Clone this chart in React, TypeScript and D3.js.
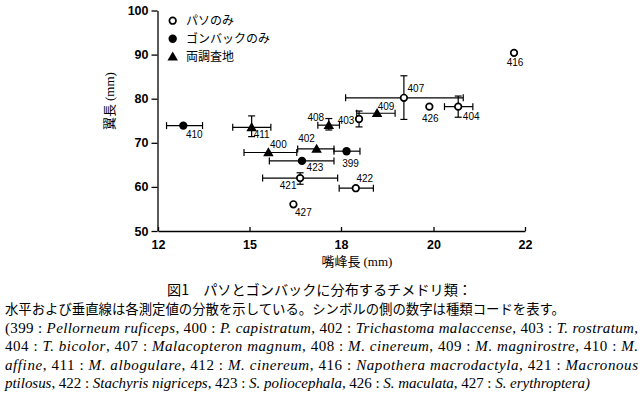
import React, { useEffect, useRef } from 'react';
import * as d3 from 'd3';

// species codes and their group (paso = パソのみ, gonbak = ゴンバックのみ, both = 両調査地)
const codes = ['399', '400', '402', '403', '404', '407', '408', '409', '410', '411', '416', '421', '422', '423', '426', '427'];
const groups = ['gonbak', 'both', 'both', 'paso', 'paso', 'paso', 'both', 'both', 'gonbak', 'both', 'paso', 'paso', 'paso', 'gonbak', 'paso', 'paso'];
// bill length (mm) and wing length (mm)
const billLen = [18.12, 15.62, 17.2, 18.39, 20.54, 19.36, 17.6, 18.78, 12.83, 15.07, 21.76, 16.66, 18.32, 16.72, 19.91, 16.44];
const wingLen = [68.1, 67.8, 68.6, 75.4, 78.2, 80.2, 74.0, 76.7, 73.9, 73.5, 90.4, 62.0, 59.7, 65.9, 78.2, 56.05];
// ranges (null = no bar)
const billLo = [17.77, 14.82, 16.58, null, 20.24, 18.1, 17.24, 18.34, 12.28, 14.45, null, 15.43, 17.94, 15.65, null, null];
const billHi = [18.41, 16.55, 17.77, null, 20.86, 20.65, 17.95, 19.17, 13.46, 15.7, null, 17.89, 18.7, 17.77, null, null];
const wingLo = [null, null, null, 73.6, 75.8, 75.3, 72.9, null, null, 71.4, null, 60.6, null, null, null, null];
const wingHi = [null, null, null, 77.2, 80.6, 85.2, 75.5, null, null, 76.1, null, 63.2, null, null, null, null];

const xTicks = [12, 15, 18, 20, 22];
const yTicks = [50, 60, 70, 80, 90, 100];

const legendItems = [
  { group: 'paso', label: 'パソのみ' },
  { group: 'gonbak', label: 'ゴンバックのみ' },
  { group: 'both', label: '両調査地' },
];

// where the code label sits relative to its symbol
const labelOffset: Record<string, [number, number]> = {
  '399': [4, 12], '400': [10, -8], '402': [-10, -10], '403': [-13, 2], '404': [13, 10],
  '407': [12, -9], '408': [-13, -8], '409': [9, -7], '410': [11, 9], '411': [10, 7],
  '416': [1, 10], '421': [-12, 7], '422': [9, -10], '423': [13, 7], '426': [1, 12], '427': [10, 8],
};

const captionTitle = '図1　パソとゴンバックに分布するチメドリ類：';
const captionNote = '水平および垂直線は各測定値の分散を示している。シンボルの側の数字は種類コードを表す。';
// [text, italic]
const captionLines: [string, boolean][][] = [
  [['(399 : ', false], ['Pellorneum ruficeps', true], [', 400 : ', false], ['P. capistratum', true], [', 402 : ', false], ['Trichastoma malaccense', true], [', 403 : ', false], ['T. rostratum', true], [',', false]],
  [['404 : ', false], ['T. bicolor', true], [', 407 : ', false], ['Malacopteron magnum', true], [', 408 : ', false], ['M. cinereum', true], [', 409 : ', false], ['M. magnirostre', true], [', 410 : ', false], ['M.', true]],
  [['affine', true], [', 411 : ', false], ['M. albogulare', true], [', 412 : ', false], ['M. cinereum', true], [', 416 : ', false], ['Napothera macrodactyla', true], [', 421 : ', false], ['Macronous', true]],
  [['ptilosus', true], [', 422 : ', false], ['Stachyris nigriceps', true], [', 423 : ', false], ['S. poliocephala', true], [', 426 : ', false], ['S. maculata', true], [', 427 : ', false], ['S. erythroptera)', true]],
];
const captionWidths = [633, 633, 633, 585];

const JP = '"Noto Sans CJK JP", sans-serif';
const SERIF = '"Liberation Serif", "DejaVu Serif", serif';

const App = () => {
  const ref = useRef<SVGSVGElement>(null);

  useEffect(() => {
    const svg = d3.select(ref.current);
    svg.selectAll('*').remove();

    // ticks are evenly spaced in the original even though the values aren't
    const x = d3.scaleLinear().domain(xTicks).range([158, 249.5, 341, 433.5, 525]);
    const y = d3.scaleLinear().domain([50, 100]).range([231, 10.5]);

    const xAxis = svg.append('g')
      .attr('transform', 'translate(0,231)')
      .call(d3.axisBottom(x).tickValues(xTicks).tickSizeInner(-4).tickSizeOuter(0).tickPadding(9).tickFormat(d3.format('d')));
    const yAxis = svg.append('g')
      .attr('transform', 'translate(157.5,0)')
      .call(d3.axisLeft(y).tickValues(yTicks).tickSize(6).tickSizeOuter(0).tickPadding(3).tickFormat(d3.format('d')));
    [xAxis, yAxis].forEach(a => {
      a.selectAll('path, line').attr('stroke', '#000').attr('stroke-width', 1.3);
      a.selectAll('text')
        .attr('fill', '#000')
        .style('font-family', '"Liberation Sans", Arial, sans-serif')
        .style('font-weight', 'bold')
        .style('font-size', '12.5px');
    });

    // axis titles
    const xt = svg.append('text').attr('x', 357).attr('y', 266).attr('text-anchor', 'middle')
      .style('font-family', JP).style('font-size', '13px');
    xt.append('tspan').text('嘴峰長 ');
    xt.append('tspan').style('font-family', SERIF).text('(mm)');
    const yt = svg.append('text').attr('transform', 'translate(114,101) rotate(-90)').attr('text-anchor', 'middle')
      .style('font-family', JP).style('font-size', '13px');
    yt.append('tspan').text('翼長 ');
    yt.append('tspan').style('font-family', SERIF).text('(mm)');

    const drawSymbol = (g: any, group: string, cx: number, cy: number) => {
      if (group === 'paso') {
        g.append('circle').attr('cx', cx).attr('cy', cy).attr('r', 3.3)
          .attr('fill', '#fff').attr('stroke', '#000').attr('stroke-width', 1.7);
      } else if (group === 'gonbak') {
        g.append('circle').attr('cx', cx).attr('cy', cy).attr('r', 4.2).attr('fill', '#000');
      } else {
        g.append('path').attr('d', d3.symbol(d3.symbolTriangle, 48)())
          .attr('transform', `translate(${cx},${cy + 0.8})`).attr('fill', '#000');
      }
    };

    const cap = 3.5;
    const marks = svg.append('g');
    codes.forEach((code, i) => {
      const cx = x(billLen[i]);
      const cy = y(wingLen[i]);
      const g = marks.append('g').attr('stroke', '#000').attr('stroke-width', 1.2);
      const lo = billLo[i], hi = billHi[i];
      if (lo != null && hi != null) {
        g.append('line').attr('x1', x(lo)).attr('x2', x(hi)).attr('y1', cy).attr('y2', cy);
        [lo, hi].forEach(v => g.append('line').attr('x1', x(v)).attr('x2', x(v)).attr('y1', cy - cap).attr('y2', cy + cap));
      }
      const wlo = wingLo[i], whi = wingHi[i];
      if (wlo != null && whi != null) {
        g.append('line').attr('x1', cx).attr('x2', cx).attr('y1', y(wlo)).attr('y2', y(whi));
        [wlo, whi].forEach(v => g.append('line').attr('x1', cx - cap).attr('x2', cx + cap).attr('y1', y(v)).attr('y2', y(v)));
      }
      drawSymbol(marks, groups[i], cx, cy);
      const [dx, dy] = labelOffset[code];
      marks.append('text').attr('x', cx + dx).attr('y', cy + dy).attr('dy', '0.35em')
        .attr('text-anchor', 'middle')
        .style('font-family', '"Liberation Sans", Arial, sans-serif').style('font-size', '10px')
        .text(code);
    });

    // legend
    const legend = svg.append('g');
    legendItems.forEach((item, i) => {
      const ly = 20.7 + i * 18;
      drawSymbol(legend, item.group, 172.7, ly);
      legend.append('text').attr('x', 186).attr('y', ly).attr('dy', '0.35em')
        .style('font-family', JP).style('font-size', '12px').text(item.label);
    });

    // caption
    const cap1 = svg.append('text').attr('x', 167).attr('y', 295)
      .attr('textLength', 305).attr('lengthAdjust', 'spacingAndGlyphs')
      .style('font-family', JP).style('font-size', '14px').text(captionTitle);
    const cap2 = svg.append('text').attr('x', 5).attr('y', 314)
      .attr('textLength', 560).attr('lengthAdjust', 'spacingAndGlyphs')
      .style('font-family', JP).style('font-size', '13.5px').text(captionNote);
    captionLines.forEach((line, i) => {
      const t = svg.append('text').attr('x', 5).attr('y', 333 + i * 18.4)
        .attr('textLength', captionWidths[i]).attr('lengthAdjust', 'spacing')
        .style('font-family', SERIF).style('font-size', '15px');
      line.forEach(([s, it]) => t.append('tspan').style('font-style', it ? 'italic' : 'normal').text(s));
    });
  }, []);

  return (
    <svg ref={ref} width={644} height={397}
      style={{ position: 'absolute', left: 0, top: 0, background: '#fff' }} />
  );
};

export default App;
